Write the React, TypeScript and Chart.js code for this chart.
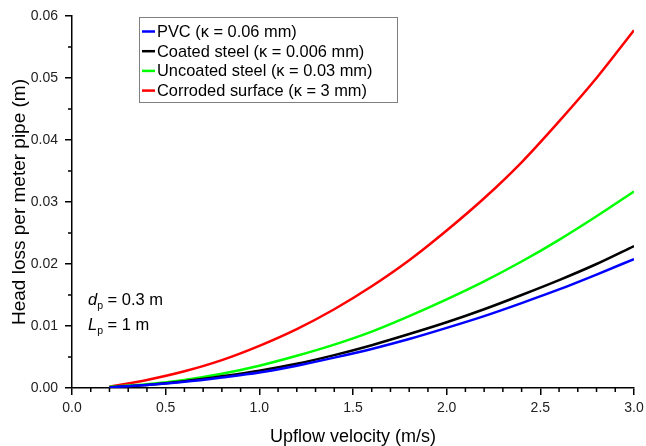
import { useEffect, useRef } from "react";
import { Chart, registerables } from "chart.js";

Chart.register(...registerables);

// ---- Data ----
const velocity = [0.2, 0.4, 0.6, 0.8, 1.0, 1.2, 1.4, 1.6, 1.8, 2.0, 2.2, 2.4, 2.6, 2.8, 3.0];
const pvc = [0.0001, 0.0005, 0.0010, 0.0017, 0.0025, 0.0036, 0.0049, 0.0063, 0.0079, 0.0097, 0.0116, 0.0137, 0.0159, 0.0183, 0.0208];
const coatedSteel = [0.0001, 0.0005, 0.0011, 0.0019, 0.0028, 0.0039, 0.0053, 0.0069, 0.0087, 0.0106, 0.0127, 0.0150, 0.0174, 0.0200, 0.0229];
const uncoatedSteel = [0.0002, 0.0006, 0.0013, 0.0023, 0.0036, 0.0052, 0.0070, 0.0091, 0.0116, 0.0143, 0.0172, 0.0204, 0.0239, 0.0277, 0.0317];
const corrodedSurface = [0.0002, 0.0013, 0.0027, 0.0045, 0.0068, 0.0095, 0.0127, 0.0164, 0.0206, 0.0254, 0.0306, 0.0364, 0.0430, 0.0500, 0.0577];

const seriesLabels = [
  "PVC (\u03BA = 0.06 mm)",
  "Coated steel (\u03BA = 0.006 mm)",
  "Uncoated steel (\u03BA = 0.03 mm)",
  "Corroded surface (\u03BA = 3 mm)",
];
const seriesValues = [pvc, coatedSteel, uncoatedSteel, corrodedSurface];
const seriesColors = ["#0000ff", "#000000", "#00ff00", "#ff0000"];

const xAxisTitle = "Upflow velocity (m/s)";
const yAxisTitle = "Head loss per meter pipe (m)";
const xMin = 0, xMax = 3, xStep = 0.5, xMinorStep = 0.1;
const yMin = 0, yMax = 0.06, yStep = 0.01, yMinorStep = 0.005;

const FONT = "'Liberation Sans', Arial, Helvetica, sans-serif";

const minorTicksPlugin = {
  id: "minorTicks",
  afterDraw(chart: any) {
    const { ctx, chartArea } = chart;
    const xs = chart.scales.x;
    const ys = chart.scales.y;
    ctx.save();
    ctx.strokeStyle = "#000";
    ctx.lineWidth = 1.5;
    ctx.beginPath();
    const nx = Math.round((xMax - xMin) / xMinorStep);
    const ratioX = Math.round(xStep / xMinorStep);
    for (let i = 1; i < nx; i++) {
      if (i % ratioX === 0) continue;
      const px = xs.getPixelForValue(xMin + i * xMinorStep);
      ctx.moveTo(px, chartArea.bottom);
      ctx.lineTo(px, chartArea.bottom + 4);
    }
    const ny = Math.round((yMax - yMin) / yMinorStep);
    const ratioY = Math.round(yStep / yMinorStep);
    for (let i = 1; i < ny; i++) {
      if (i % ratioY === 0) continue;
      const py = ys.getPixelForValue(yMin + i * yMinorStep);
      ctx.moveTo(chartArea.left, py);
      ctx.lineTo(chartArea.left - 4, py);
    }
    ctx.stroke();
    ctx.restore();
  },
};

const legendBoxPlugin = {
  id: "legendBox",
  afterDraw(chart: any) {
    const { ctx } = chart;
    const left = 139, top = 17, right = 398, bottom = 103;
    ctx.save();
    ctx.fillStyle = "#fff";
    ctx.fillRect(left, top, right - left, bottom - top);
    ctx.strokeStyle = "#7f7f7f";
    ctx.lineWidth = 1;
    ctx.strokeRect(left + 0.5, top + 0.5, right - left - 1, bottom - top - 1);
    ctx.font = `16.4px ${FONT}`;
    ctx.textBaseline = "middle";
    ctx.textAlign = "left";
    chart.data.datasets.forEach((ds: any, i: number) => {
      const cy = 31.5 + i * 19.7;
      ctx.strokeStyle = ds.borderColor;
      ctx.lineWidth = 2.5;
      ctx.beginPath();
      ctx.moveTo(142, cy);
      ctx.lineTo(155, cy);
      ctx.stroke();
      ctx.fillStyle = "#000";
      ctx.fillText(ds.label, 157, cy + 1);
    });
    ctx.restore();
  },
};

const annotationPlugin = {
  id: "paramText",
  afterDraw(chart: any) {
    const { ctx } = chart;
    ctx.save();
    ctx.fillStyle = "#000";
    ctx.textBaseline = "alphabetic";
    ctx.textAlign = "left";
    const rows = [
      { sym: "d", rest: " = 0.3 m", base: 305 },
      { sym: "L", rest: " = 1 m", base: 330 },
    ];
    rows.forEach((r) => {
      let x = 88;
      ctx.font = `italic 16.5px ${FONT}`;
      ctx.fillText(r.sym, x, r.base);
      x += ctx.measureText(r.sym).width;
      ctx.font = `10.5px ${FONT}`;
      ctx.fillText("p", x, r.base + 4);
      x += ctx.measureText("p").width;
      ctx.font = `16.5px ${FONT}`;
      ctx.fillText(r.rest, x, r.base);
    });
    ctx.restore();
  },
};

export default function App() {
  const ref = useRef<HTMLCanvasElement | null>(null);

  useEffect(() => {
    document.body.style.margin = "0";
    if (!ref.current) return;
    const datasets = seriesLabels.map((label, i) => ({
      label,
      data: velocity.map((v, j) => ({ x: v, y: seriesValues[i][j] })),
      borderColor: seriesColors[i],
      backgroundColor: seriesColors[i],
      borderWidth: 2.5,
      pointRadius: 0,
      fill: false,
      cubicInterpolationMode: "monotone" as const,
    }));

    const chart = new Chart(ref.current, {
      type: "line",
      data: { datasets },
      options: {
        animation: false,
        responsive: false,
        devicePixelRatio: 1,
        layout: { padding: { top: 16, right: 12, bottom: 0, left: 0 } },
        plugins: {
          legend: { display: false },
          tooltip: { enabled: false },
        },
        scales: {
          x: {
            type: "linear",
            min: xMin,
            max: xMax,
            afterFit(s: any) {
              s.height = 58;
              s.paddingLeft = 0;
              s.paddingRight = 0;
            },
            ticks: {
              stepSize: xStep,
              padding: 5,
              color: "#222",
              font: { family: FONT, size: 14 },
              callback: (v: any) => Number(v).toFixed(1),
              maxRotation: 0,
            },
            grid: {
              display: true,
              drawOnChartArea: false,
              drawTicks: true,
              tickLength: 7,
              color: "#000",
              lineWidth: 1.5,
            },
            border: { display: true, color: "#000", width: 1.5 },
            title: {
              display: true,
              text: xAxisTitle,
              color: "#000",
              font: { family: FONT, size: 18, lineHeight: 1 },
              padding: { top: 0, bottom: 0 },
            },
          },
          y: {
            type: "linear",
            min: yMin,
            max: yMax,
            afterFit(s: any) {
              s.width = 72;
              s.paddingTop = 0;
              s.paddingBottom = 0;
            },
            ticks: {
              stepSize: yStep,
              padding: 7,
              color: "#222",
              font: { family: FONT, size: 14 },
              callback: (v: any) => Number(v).toFixed(2),
            },
            grid: {
              display: true,
              drawOnChartArea: false,
              drawTicks: true,
              tickLength: 7,
              color: "#000",
              lineWidth: 1.5,
            },
            border: { display: true, color: "#000", width: 1.5 },
            title: {
              display: true,
              text: yAxisTitle,
              color: "#000",
              font: { family: FONT, size: 19, lineHeight: 1 },
              padding: { top: 10, bottom: 0 },
            },
          },
        },
      },
      plugins: [minorTicksPlugin, legendBoxPlugin, annotationPlugin],
    });
    return () => chart.destroy();
  }, []);

  return (
    <div style={{ width: 646, height: 446, background: "#fff" }}>
      <canvas ref={ref} width={646} height={446} style={{ display: "block" }} />
    </div>
  );
}
